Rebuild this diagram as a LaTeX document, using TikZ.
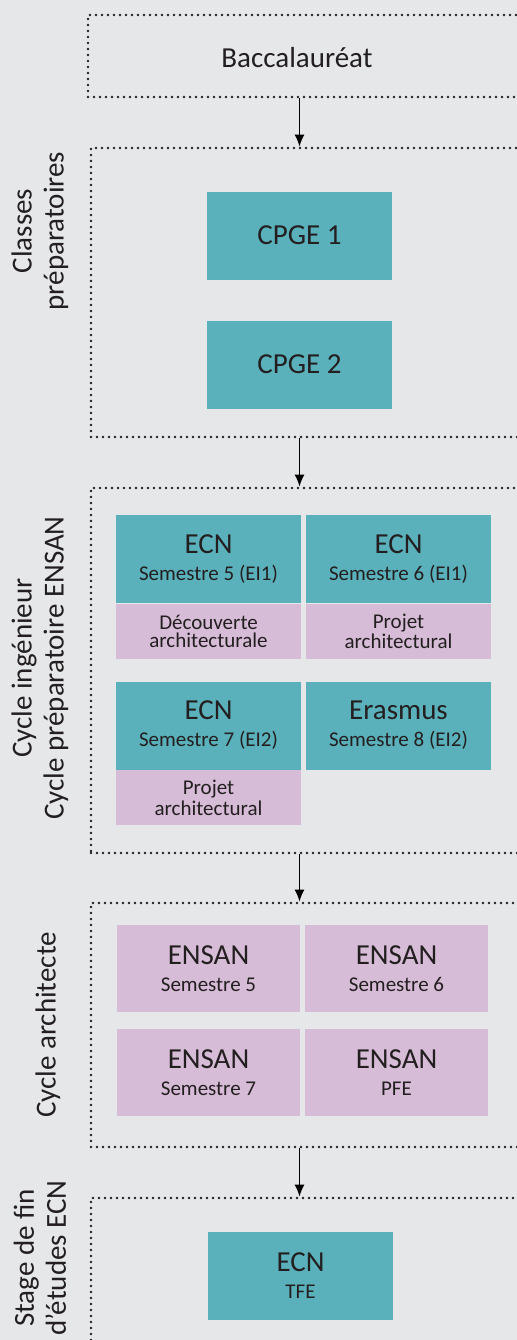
\documentclass[tikz,border=0pt]{standalone}
\usepackage{fontspec}
\setmainfont{Carlito}
\usetikzlibrary{arrows.meta,positioning}
\definecolor{ecn}{HTML}{5AB1BB}
\definecolor{ensan}{HTML}{D6BCD6}
\definecolor{fond}{HTML}{E6E7E9}
\definecolor{encre}{HTML}{231F20}
\newcommand{\grand}{\fontsize{14.5}{16}\selectfont}
\newcommand{\petit}{\fontsize{10.5}{9}\selectfont}

\begin{document}
\begin{tikzpicture}[x=0.5pt, y=-0.5pt, text=encre,
		cadre/.style={draw=encre, line width=1.4pt, dash pattern=on 0pt off 3pt, line cap=round, minimum width=224.5pt, inner sep=0pt},
		ecnbox/.style={fill=ecn, minimum width=92.5pt, minimum height=44pt, align=center, inner sep=0pt},
		ensanbox/.style={fill=ensan, minimum width=91.5pt, minimum height=43.5pt, align=center, inner sep=0pt},
		projbox/.style={fill=ensan, minimum width=92.5pt, minimum height=27.5pt, align=center, inner sep=0pt, font=\petit},
		etape/.style={rotate=90, align=center, font=\grand},
		arr/.style={-{Latex[length=6pt,width=5pt]}, line width=0.7pt}]
			% background and page
			\useasboundingbox (0,0) rectangle (517,1340);
			\fill[fond] (0,0) rectangle (517,1340);
			\clip (0,0) rectangle (517,1340);
			
			% stages (dotted frames, cut at the right border)
			\node[cadre, minimum width=226pt, minimum height=41pt] (bac) at (314,56) {};
			\node[cadre, minimum height=144.5pt] (prep) at (315.5,292.5) {};
			\node[cadre, minimum height=182.5pt] (ing) at (315.5,670.5) {};
			\node[cadre, minimum height=122pt] (arch) at (315.5,1025) {};
			\node[cadre, minimum height=86pt] (fin) at (315.5,1284) {};
			\node[font=\grand] (baclabel) at (297,58) {Baccalauréat};
			
			% side titles
			\node[etape] (tprep) at (40,231) {Classes\\préparatoires};
			\node[etape] (ting) at (40,668) {Cycle ingénieur\\Cycle préparatoire ENSAN};
			\node[etape] (tarch) at (48,1025) {Cycle architecte};
			\node[etape] (tfin) at (40,1258) {Stage de fin\\d'études ECN};
			
			% classes preparatoires
			\node[ecnbox, font=\grand] (cpge1) at (299.5,235.5) {CPGE 1};
			\node[ecnbox, font=\grand] (cpge2) at (299.5,364.5) {CPGE 2};
			
			% cycle ingenieur
			\node[ecnbox] (s5) at (208.5,559) {{\grand ECN}\\[1.5pt]{\petit Semestre 5 (EI1)}};
			\node[ecnbox] (s6) at (398.5,559) {{\grand ECN}\\[1.5pt]{\petit Semestre 6 (EI1)}};
			\node[ecnbox] (s7) at (208.5,725.5) {{\grand ECN}\\[1.5pt]{\petit Semestre 7 (EI2)}};
			\node[ecnbox] (s8) at (398.5,725.5) {{\grand Erasmus}\\[1.5pt]{\petit Semestre 8 (EI2)}};
			\node[projbox, below=0pt of s5] (s5p) {Découverte\\architecturale};
			\node[projbox, below=0pt of s6] (s6p) {Projet\\architectural};
			\node[projbox, below=0pt of s7] (s7p) {Projet\\architectural};
			
			% cycle architecte
			\foreach \n/\x/\y/\t in {a5/208.5/968.5/Semestre 5, a6/396.5/968.5/Semestre 6, a7/208.5/1072.5/Semestre 7, pfe/396.5/1072.5/PFE} {
				\node[ensanbox] (\n) at (\x,\y) {{\grand ENSAN}\\[1.5pt]{\petit \t}};
			};
			
			% stage
			\node[ecnbox, minimum height=44pt] (tfe) at (300.5,1276) {{\grand ECN}\\[1.5pt]{\petit TFE}};
			
			% arrows between stages
			\foreach \a/\b in {bac/prep, prep/ing, ing/arch, arch/fin} {
				\draw[arr] (\a.south -| cpge1) -- (\b.north -| cpge1);
			};
		\end{tikzpicture}
\end{document}
